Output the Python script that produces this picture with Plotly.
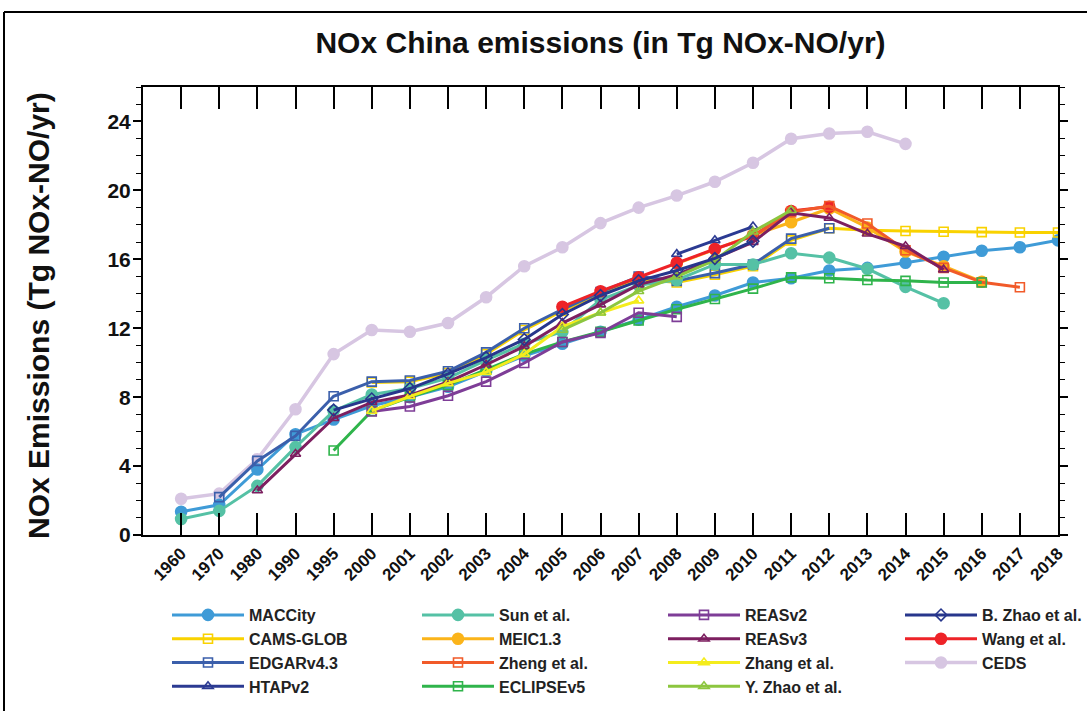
import plotly.graph_objects as go

N = None

YEARS = ["1960", "1970", "1980", "1990", "1995", "2000", "2001", "2002", "2003",
         "2004", "2005", "2006", "2007", "2008", "2009", "2010", "2011", "2012",
         "2013", "2014", "2015", "2016", "2017", "2018"]

MACCITY = [1.35, 1.75, 3.8, 5.85, 6.7, 7.5, 8.0, 8.6, 9.5, 10.4, 11.1, 11.8, 12.5,
           13.25, 13.9, 14.65, 14.9, 15.35, 15.5, 15.8, 16.15, 16.5, 16.7, 17.1]
CAMS_GLOB = [N, N, N, N, N, 8.85, 8.9, 9.4, 10.5, 11.9, 13.0, 14.0, 14.85,
             14.65, 15.1, 15.6, 17.1, 17.8, 17.68, 17.64, 17.6, 17.58, 17.56, 17.56]
EDGAR = [N, 2.2, 4.3, 5.75, 8.05, 8.9, 8.97, 9.5, 10.6, 12.0, 13.1, 14.1, 15.0,
         14.75, 15.2, 15.7, 17.2, 17.8, N, N, N, N, N, N]
HTAP = [N, N, N, N, N, N, N, N, N, N, N, N, N,
        16.3, 17.1, 17.9, N, N, N, N, N, N, N, N]
SUN = [0.93, 1.4, 2.85, 5.1, 7.2, 8.15, 8.5, 9.1, 10.15, 11.1, 11.8, 13.65, 14.5,
       14.8, 15.7, 15.7, 16.35, 16.1, 15.45, 14.4, 13.45, N, N, N]
MEIC = [N, N, N, N, N, N, N, N, N, N, N, N, N,
        15.75, 16.57, 17.4, 18.15, 18.95, 17.85, 16.45, 15.6, 14.7, N, N]
ZHENG = [N, N, N, N, N, N, N, N, N, N, N, N, N,
         N, N, 17.35, 18.74, 19.09, 18.08, 16.53, 15.5, 14.67, 14.38, N]
ECLIPSE = [N, N, N, N, 4.9, 7.2, 8.0, 8.7, 9.6, 10.5, 11.2, 11.8, 12.45,
           13.1, 13.7, 14.3, 14.95, 14.9, 14.8, 14.75, 14.65, 14.65, N, N]
REASV2 = [N, N, N, N, N, 7.17, 7.46, 8.08, 8.9, 9.98, 11.2, 11.73, 12.9,
          12.66, N, N, N, N, N, N, N, N, N, N]
REASV3 = [N, N, 2.58, 4.7, 6.78, 7.7, 8.12, 8.88, 9.88, 10.95, 12.3, 13.37, 14.53,
          15.1, 16.03, 17.0, 18.7, 18.4, 17.48, 16.76, 15.4, N, N, N]
ZHANG = [N, N, N, N, N, 7.2, 8.05, 8.8, 9.45, 10.5, 12.1, 12.9, 13.6,
         N, N, N, N, N, N, N, N, N, N, N]
Y_ZHAO = [N, N, N, N, N, N, N, N, N, N, 11.9, 12.9, 14.15,
          15.0, 15.95, 17.6, 18.85, N, N, N, N, N, N, N]
B_ZHAO = [N, N, N, N, 7.25, 7.9, 8.5, 9.35, 10.3, 11.35, 12.8, 13.9, 14.75,
          15.35, 16.05, 17.05, N, N, N, N, N, N, N, N]
WANG = [N, N, N, N, N, N, N, N, N, N, 13.25, 14.15, 14.96,
        15.8, 16.6, 17.35, 18.8, 19.05, N, N, N, N, N, N]
CEDS = [2.1, 2.4, 4.4, 7.3, 10.5, 11.9, 11.8, 12.3, 13.8, 15.6, 16.7, 18.1, 19.0,
        19.7, 20.5, 21.6, 23.0, 23.3, 23.4, 22.7, N, N, N, N]

# (name, values, colour, marker, legend column, rank in column)
SERIES = [
    ("CEDS", CEDS, "#d7c6e2", "circle", "legend4", 3),
    ("MACCity", MACCITY, "#3f9bd7", "circle", "legend", 1),
    ("CAMS-GLOB", CAMS_GLOB, "#f9d200", "square-open", "legend", 2),
    ("EDGARv4.3", EDGAR, "#3b5fab", "square-open", "legend", 3),
    ("HTAPv2", HTAP, "#2b3a92", "triangle-up-open", "legend", 4),
    ("Sun et al.", SUN, "#55c1a5", "circle", "legend2", 1),
    ("MEIC1.3", MEIC, "#fbb41a", "circle", "legend2", 2),
    ("Wang et al.", WANG, "#ee2328", "circle", "legend4", 2),
    ("Zheng et al.", ZHENG, "#f15a29", "square-open", "legend2", 3),
    ("ECLIPSEv5", ECLIPSE, "#2fb44b", "square-open", "legend2", 4),
    ("REASv2", REASV2, "#7e3d97", "square-open", "legend3", 1),
    ("REASv3", REASV3, "#7d1f60", "triangle-up-open", "legend3", 2),
    ("Zhang et al.", ZHANG, "#f4ec1c", "triangle-up-open", "legend3", 3),
    ("Y. Zhao et al.", Y_ZHAO, "#8cc63f", "triangle-up-open", "legend3", 4),
    ("B. Zhao et al.", B_ZHAO, "#27368c", "diamond-open", "legend4", 1),
]

W, H = 1087, 711
M_L, M_R, M_T, M_B = 143, 29, 87, 176
PW, PH = W - M_L - M_R, H - M_T - M_B
FONT = "Liberation Sans"


def px_x(x):
    return (x - M_L) / PW


def px_y(y):
    return (H - M_B - y) / PH


fig = go.Figure()
for name, vals, color, sym, leg, rank in SERIES:
    is_open = sym.endswith("open")
    fig.add_trace(go.Scatter(
        x=YEARS, y=vals, name=name, mode="lines+markers",
        line=dict(color=color, width=3.5 if name == "CEDS" else 3),
        marker=dict(symbol=sym, color=color, size=9 if is_open else 11,
                    line=dict(color=color, width=1.6)),
        legend=leg, legendrank=rank, connectgaps=False,
    ))

legend_style = dict(
    orientation="v", xanchor="left", yanchor="top", y=px_y(598),
    bgcolor="rgba(0,0,0,0)", itemwidth=72, tracegroupgap=0,
    font=dict(family=FONT, size=16, color="#222", weight="bold"),
)

fig.update_layout(
    width=W, height=H,
    margin=dict(l=M_L, r=M_R, t=M_T, b=M_B, autoexpand=False),
    paper_bgcolor="white", plot_bgcolor="white",
    font=dict(family=FONT, color="black"),
    title=dict(
        text="NOx China emissions (in Tg NOx-NO/yr)",
        x=0.5, xref="paper", xanchor="center", y=1 - 42 / H, yanchor="middle",
        font=dict(size=30, weight="bold", color="#111"),
    ),
    xaxis=dict(
        type="category", categoryorder="array", categoryarray=YEARS,
        range=[-1, 23], showgrid=False, zeroline=False,
        showline=True, linecolor="black", linewidth=2, mirror="ticks",
        ticks="inside", ticklen=22, tickwidth=1.5, tickcolor="black",
        tickangle=-45, tickfont=dict(size=17, weight="bold", color="#111"),
    ),
    yaxis=dict(
        range=[0, 26], dtick=4, showgrid=False, zeroline=False,
        showline=True, linecolor="black", linewidth=2, mirror="ticks",
        ticks="outside", ticklen=8, tickwidth=2, tickcolor="black",
        minor=dict(dtick=1, ticks="outside", ticklen=5, tickwidth=1, tickcolor="black"),
        tickfont=dict(size=21, weight="bold", color="#111"),
        ticklabelstandoff=-2,
    ),
    annotations=[dict(
        text="NOx Emissions (Tg NOx-NO/yr)", textangle=-90, showarrow=False,
        xref="paper", yref="paper", x=px_x(38), y=px_y(316),
        xanchor="center", yanchor="middle",
        font=dict(size=30, weight="bold", color="#111"),
    )],
    legend=dict(legend_style, x=px_x(167)),
    legend2=dict(legend_style, x=px_x(417)),
    legend3=dict(legend_style, x=px_x(663)),
    legend4=dict(legend_style, x=px_x(900)),
    shapes=[
        dict(type="line", xref="paper", yref="paper", x0=px_x(4), x1=px_x(W + 5),
             y0=px_y(12), y1=px_y(12), line=dict(color="black", width=2)),
        dict(type="line", xref="paper", yref="paper", x0=px_x(4), x1=px_x(4),
             y0=px_y(12), y1=px_y(H + 5), line=dict(color="black", width=2)),
    ],
)

fig.write_html("out.html", config={"displayModeBar": False},
               post_script="document.body.style.margin = '0';")
